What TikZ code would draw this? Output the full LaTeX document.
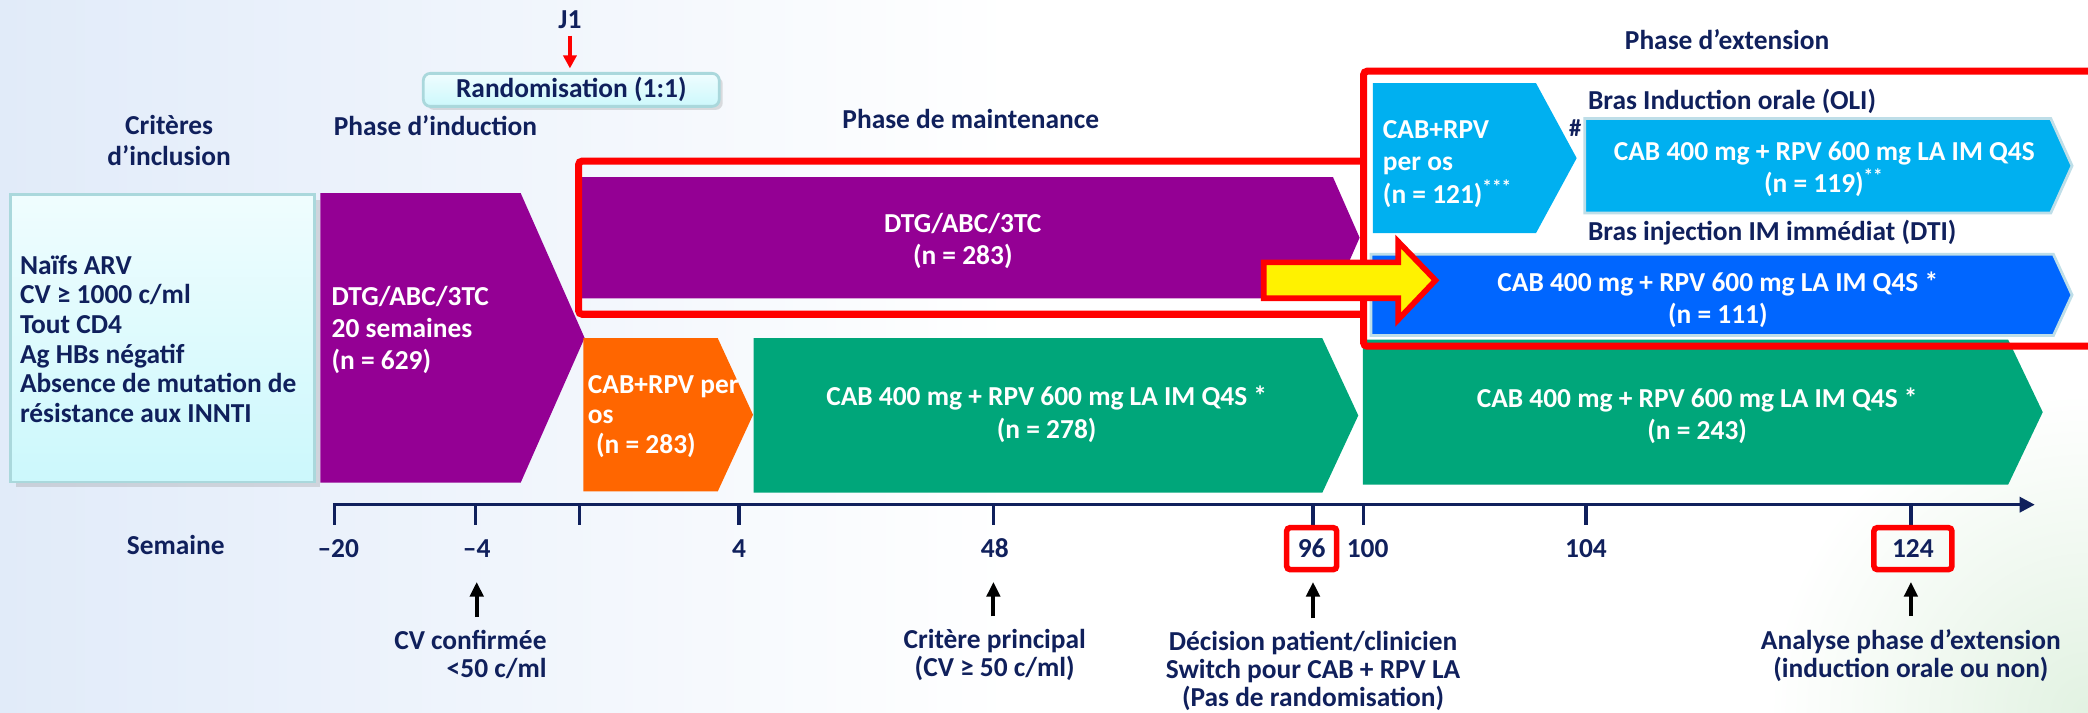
\documentclass[tikz,border=0pt]{standalone}
\usepackage{fontspec}
\setmainfont{Carlito}
\usetikzlibrary{arrows.meta,shadows}

\definecolor{navy}{RGB}{16,32,92}
\definecolor{indpurple}{RGB}{148,0,148}
\definecolor{oralorange}{RGB}{255,102,0}
\definecolor{injgreen}{RGB}{0,166,122}
\definecolor{oralblue}{RGB}{0,176,240}
\definecolor{dtiblue}{RGB}{0,102,255}
\definecolor{critfill}{RGB}{204,248,252}
\definecolor{critedge}{RGB}{170,216,220}
\definecolor{bgblue}{RGB}{225,235,249}
\definecolor{bggreen}{RGB}{226,242,226}
\definecolor{boxedge}{RGB}{190,222,232}

% chevron: x left, y top, x corner, x tip, y bottom, options
\newcommand{\phasearrow}[6]{%
  \fill[#6] (#1,#2) -- (#3,#2) -- (#4,{(#2+#5)/2}) -- (#3,#5) -- (#1,#5) -- cycle;}

\tikzset{
  lbl/.style={text=navy, font=\bfseries\fontsize{7.8}{9}\selectfont, inner sep=0pt},
  boxtxt/.style={text=white, font=\bfseries\fontsize{7.8}{9.2}\selectfont, align=center, inner sep=0pt},
  note/.style={lbl, font=\bfseries\fontsize{7.8}{8}\selectfont, align=center},
  tick/.style={navy, line width=0.9pt},
  pointer/.style={-{Triangle[length=4.2pt,width=3.8pt]}, line width=1.1pt, black},
  redframe/.style={draw=red, line width=2pt, rounded corners=1pt},
  weekbox/.style={lbl, draw=red, line width=1.6pt, rounded corners=1pt, minimum height=0.42cm},
}

\begin{document}
\begin{tikzpicture}[x=0.013316cm, y=-0.013316cm]
    \clip (0,0) rectangle (1568,535);
    % Background
    \fill[white] (0,0) rectangle (1568,535);
    \shade[left color=bgblue, right color=white] (0,0) rectangle (760,535);
    \shade[inner color=bggreen, outer color=white] (1568,535) circle (240);

    % Randomisation and phase titles
    \node[lbl] (j1) at (428,15) {J1};
    \node[lbl, draw=critedge, line width=0.8pt, rounded corners=2pt,
          top color=critfill!30!white, bottom color=critfill,
          minimum width=2.96cm, minimum height=0.33cm,
          drop shadow={shadow xshift=1pt, shadow yshift=-1pt, opacity=0.25}] (rand) at (429,67.5) {Randomisation (1:1)};
    \draw[red, line width=1pt, -{Triangle[length=3.7pt,width=3.7pt]}, shorten <=1.7pt, shorten >=1pt]
        (j1.south) -- (j1.south |- rand.north);
    \node[lbl, align=center] (crit) at (127,105.5) {Critères\\d’inclusion};
    \node[lbl] (induc) at (327,94) {Phase d’induction};
    \node[lbl] (maint) at (729,89) {Phase de maintenance};
    \node[lbl] (ext) at (1297,30) {Phase d’extension};

    % Inclusion criteria
    \path[draw=critedge, line width=0.8pt, top color=critfill!30!white, bottom color=critfill,
          drop shadow={shadow xshift=1.5pt, shadow yshift=-1.5pt, opacity=0.25}] (8,146) rectangle (236,362);
    \node[lbl, align=left, anchor=west, font=\bfseries\fontsize{7.8}{8.45}\selectfont] (crittxt) at (14.5,254.5)
        {Naïfs ARV\\CV ≥ 1000 c/ml\\Tout CD4\\Ag HBs négatif\\Absence de mutation de\\résistance aux INNTI};

    % Induction phase
    \phasearrow{240.5}{145}{391}{439}{362.5}{indpurple}
    \node[boxtxt, align=left, anchor=west, font=\bfseries\fontsize{7.8}{9.1}\selectfont] (inductxt) at (248.5,248)
        {DTG/ABC/3TC\\20 semaines\\(n = 629)};

    % Maintenance phase
    \phasearrow{437}{133}{1001}{1021}{224}{indpurple}
    \node[boxtxt] (dtgmaint) at (723,181) {DTG/ABC/3TC\\(n = 283)};
    \phasearrow{438}{254}{539}{565.5}{369}{oralorange}
    \node[boxtxt, align=left, anchor=west, font=\bfseries\fontsize{7.8}{8.5}\selectfont] (oralmaint) at (441,313)
        {CAB+RPV per\\os\\\hspace{0.3em}(n = 283)};
    \phasearrow{566}{254}{993}{1020}{370}{injgreen}
    \node[boxtxt] (injmaint) at (786,311) {CAB 400 mg + RPV 600 mg LA IM Q4S *\\(n = 278)};

    % Extension phase
    \phasearrow{1023.5}{255}{1508}{1534}{364}{injgreen}
    \node[boxtxt] (injext) at (1274.5,312) {CAB 400 mg + RPV 600 mg LA IM Q4S *\\(n = 243)};
    \phasearrow{1031}{62.5}{1153.5}{1184}{175}{oralblue}
    \node[boxtxt, align=left, anchor=west] (oralext) at (1038,123)
        {CAB+RPV\\per os\\(n = 121)\textsuperscript{***}};
    \node[lbl, font=\bfseries\fontsize{7}{7}\selectfont] (hash) at (1183,96) {\#};
    \node[lbl, anchor=west] (oli) at (1192,76) {Bras Induction orale (OLI)};
    \phasearrow{1190}{89}{1540}{1556}{160}{oralblue, draw=boxedge, line width=0.8pt}
    \node[boxtxt] (olitxt) at (1370,127) {CAB 400 mg + RPV 600 mg LA IM Q4S\\(n = 119)\textsuperscript{**}};
    \node[lbl, anchor=west] (dti) at (1192,175) {Bras injection IM immédiat (DTI)};
    \phasearrow{1029.5}{191}{1542}{1556}{252}{dtiblue, draw=boxedge, line width=0.8pt}
    \node[boxtxt] (dtitxt) at (1290,225) {CAB 400 mg + RPV 600 mg LA IM Q4S *\\(n = 111)};

    % Highlight frames
    \draw[redframe] (1024,121) -- (434.5,121) -- (434.5,236) -- (1024,236);
    \draw[redframe] (1580,53.5) -- (1024,53.5) -- (1024,260) -- (1580,260);
    \draw[fill=yellow, draw=red, line width=1.6pt, line join=miter]
        (949,197) -- (1050,197) -- (1050,181.5) -- (1078,210.5) -- (1050,240) -- (1050,224) -- (949,224) -- cycle;

    % Week axis
    \draw[navy, line width=0.9pt, -{Triangle[length=4.3pt,width=4.3pt]}] (250,379) -- (1528,379);
    \foreach \x in {251.5,357,435,555,746,986,1024,1191,1435}
        \draw[tick] (\x,379) -- (\x,394);
    \node[lbl] (sem) at (132,409) {Semaine};
    \foreach \x/\t/\n in {254/–20/wm20, 358/–4/wm4, 555/4/w4, 747/48/w48, 1027/100/w100, 1191/104/w104}
        \node[lbl] (\n) at (\x,412) {\t};
    \node[weekbox, minimum width=0.5cm] (w96) at (985,412) {96};
    \node[weekbox, minimum width=0.78cm] (w124) at (1436.5,412) {124};

    % Milestones
    \coordinate (p1) at (358,437);
    \coordinate (p2) at (746,437);
    \coordinate (p3) at (986,437);
    \coordinate (p4) at (1435,437);
    \node[note, align=right, anchor=east] (cvnote) at (411,491.5) {CV confirmée\\<50 c/ml};
    \node[note] (primnote) at (747,492) {Critère principal\\(CV ≥ 50 c/ml)};
    \node[note] (switchnote) at (986,504) {Décision patient/clinicien\\Switch pour CAB + RPV LA\\(Pas de randomisation)};
    \node[note] (extnote) at (1435,492) {Analyse phase d’extension\\(induction orale ou non)};
    \draw[pointer, shorten <=3.5pt] (p1 |- cvnote.north) -- (p1);
    \draw[pointer, shorten <=3.5pt] (p2 |- primnote.north) -- (p2);
    \draw[pointer, shorten <=3.5pt] (p3 |- switchnote.north) -- (p3);
    \draw[pointer, shorten <=3.5pt] (p4 |- extnote.north) -- (p4);
\end{tikzpicture}
\end{document}
